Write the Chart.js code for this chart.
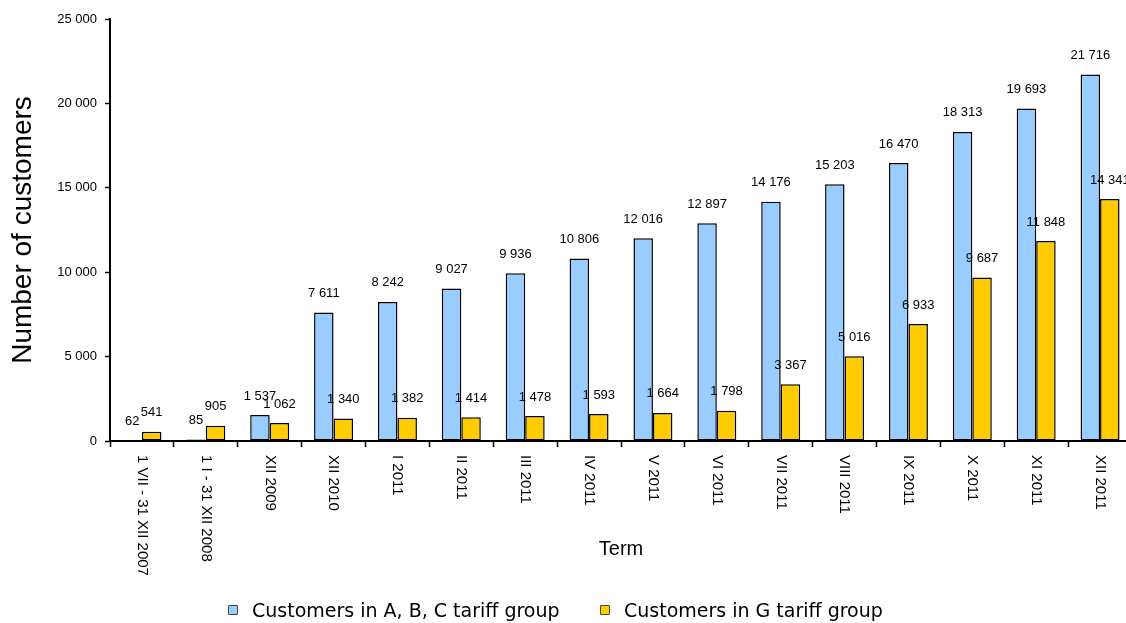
<!DOCTYPE html>
<html>
<head>
<meta charset="utf-8">
<title>Number of customers</title>
<script src="https://cdn.jsdelivr.net/npm/chart.js@4/dist/chart.umd.min.js"></script>
<style>
  html, body { margin: 0; padding: 0; background: #fff; overflow: hidden; }
  #wrap { position: relative; width: 1136px; height: 623px; }
  #legend {
    position: absolute; top: 598px; left: 0; width: 1126px; height: 24px;
    font: 19px "DejaVu Sans", sans-serif; color: #000;
  }
  #legend span {
    position: absolute; top: 0; display: inline-flex; align-items: center;
    white-space: nowrap; line-height: 24px;
  }
  #legend i {
    display: inline-block; width: 8px; height: 8px; margin-right: 14px;
    border: 1px solid #444; border-radius: 1px;
  }
</style>
</head>
<body>
<div id="wrap">
  <canvas id="chart" width="1136" height="623"></canvas>
  <div id="legend"></div>
</div>
<script>
const terms = [
  "1 VII - 31 XII 2007", "1 I - 31 XII 2008", "XII 2009", "XII 2010",
  "I 2011", "II 2011", "III 2011", "IV 2011", "V 2011", "VI 2011",
  "VII 2011", "VIII 2011", "IX 2011", "X 2011", "XI 2011", "XII 2011"
];
const abcCustomers = [62, 85, 1537, 7611, 8242, 9027, 9936, 10806, 12016, 12897, 14176, 15203, 16470, 18313, 19693, 21716];
const gCustomers = [541, 905, 1062, 1340, 1382, 1414, 1478, 1593, 1664, 1798, 3367, 5016, 6933, 9687, 11848, 14341];
const seriesNames = ["Customers in A, B, C tariff group", "Customers in G tariff group"];
const seriesColors = ["#99CCFF", "#FFCC00"];
const yTicks = [0, 5000, 10000, 15000, 20000, 25000];

// "12 345" style thousands
const fmt = v => String(v).replace(/\B(?=(\d{3})+(?!\d))/g, " ");

// value labels above each bar
const barLabels = {
  id: "barLabels",
  afterDatasetsDraw(chart) {
    const ctx = chart.ctx;
    ctx.save();
    ctx.font = "13px 'Liberation Sans', Arial, sans-serif";
    ctx.fillStyle = "#000";
    ctx.textAlign = "center";
    ctx.textBaseline = "middle";
    chart.data.datasets.forEach((ds, i) => {
      chart.getDatasetMeta(i).data.forEach((bar, j) => {
        ctx.fillText(fmt(ds.data[j]), bar.x, bar.y - 19);
      });
    });
    ctx.restore();
  }
};

// category names run top-to-bottom under the axis
const termLabels = {
  id: "termLabels",
  afterDraw(chart) {
    const ctx = chart.ctx;
    const xs = chart.scales.x;
    ctx.save();
    ctx.font = "15px 'Liberation Sans', Arial, sans-serif";
    ctx.fillStyle = "#000";
    ctx.textAlign = "left";
    ctx.textBaseline = "middle";
    terms.forEach((t, i) => {
      ctx.save();
      ctx.translate(xs.getPixelForValue(i), xs.top + 14);
      ctx.rotate(Math.PI / 2);
      ctx.fillText(t, 0, 0);
      ctx.restore();
    });
    ctx.restore();
  }
};

new Chart(document.getElementById("chart"), {
  type: "bar",
  data: {
    labels: terms,
    datasets: [
      { label: seriesNames[0], data: abcCustomers, backgroundColor: seriesColors[0] },
      { label: seriesNames[1], data: gCustomers, backgroundColor: seriesColors[1] }
    ]
  },
  options: {
    responsive: false,
    animation: false,
    layout: { padding: { top: 19, right: 4, bottom: 62, left: 0 } },
    datasets: {
      bar: {
        borderColor: "#000",
        borderWidth: 1.5,
        borderSkipped: false,
        categoryPercentage: 0.61,
        barPercentage: 1.0
      }
    },
    plugins: {
      legend: { display: false },
      tooltip: { enabled: false }
    },
    scales: {
      x: {
        afterFit: s => { s.height = 120; },
        grid: { drawOnChartArea: false, offset: true, tickLength: 6, tickColor: "#000", tickWidth: 1.5 },
        border: { color: "#000", width: 2 },
        ticks: { display: false },
        title: {
          display: true, text: "Term", color: "#000",
          font: { family: "'Liberation Sans', Arial, sans-serif", size: 20 },
          padding: 0
        }
      },
      y: {
        min: 0,
        max: 25000,
        afterFit: s => { s.width = 110; },
        afterBuildTicks: s => { s.ticks = yTicks.map(v => ({ value: v })); },
        grid: { drawOnChartArea: false, tickLength: 5, tickColor: "#000", tickWidth: 1.5 },
        border: { color: "#000", width: 2 },
        ticks: {
          color: "#000",
          padding: 8,
          font: { family: "'Liberation Sans', Arial, sans-serif", size: 13 },
          callback: v => fmt(v)
        },
        title: {
          display: true, text: "Number of customers", color: "#000",
          font: { family: "'Liberation Sans', Arial, sans-serif", size: 28 },
          padding: { top: 6, bottom: 0 }
        }
      }
    }
  },
  plugins: [barLabels, termLabels]
});

// legend under the chart, one entry per series
const legendLeft = [228, 600];
document.getElementById("legend").innerHTML = seriesNames
  .map((n, i) => `<span style="left:${legendLeft[i]}px"><i style="background:${seriesColors[i]}"></i>${n}</span>`)
  .join("");
</script>
</body>
</html>
